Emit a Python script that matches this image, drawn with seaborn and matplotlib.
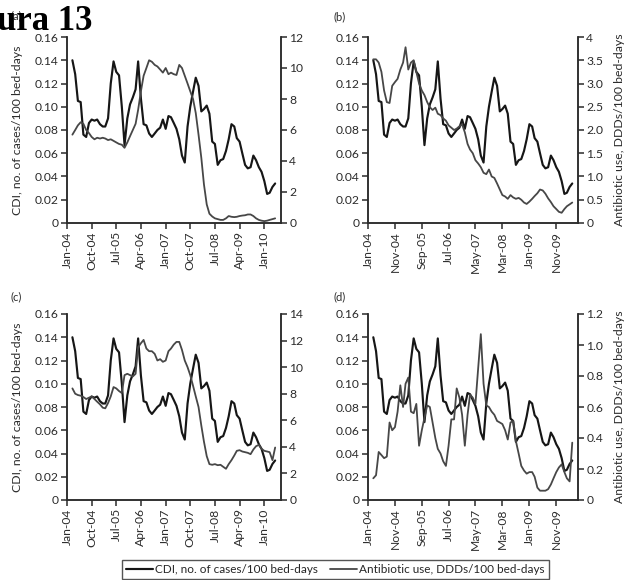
import numpy as np
import pandas as pd
import matplotlib
matplotlib.use('Agg')
import matplotlib.pyplot as plt
import matplotlib.dates as mdates
import seaborn as sns

# monthly values, Mar-04 .. May-10
months = pd.date_range('2004-03-01', '2010-05-01', freq='MS')

# CDI, no. of cases/100 bed-days (same series in all panels)
cdi = [0.140, 0.128, 0.105, 0.104, 0.076, 0.074, 0.086, 0.089, 0.088, 0.089,
       0.085, 0.083, 0.083, 0.090, 0.120, 0.139, 0.130, 0.127, 0.100, 0.067,
       0.090, 0.102, 0.108, 0.115, 0.139, 0.107, 0.085, 0.084, 0.077, 0.074,
       0.077, 0.080, 0.082, 0.089, 0.081, 0.092, 0.091, 0.086, 0.081, 0.072,
       0.058, 0.052, 0.083, 0.100, 0.113, 0.125, 0.118, 0.096, 0.098, 0.101,
       0.094, 0.070, 0.068, 0.050, 0.054, 0.055, 0.062, 0.072, 0.085, 0.083,
       0.073, 0.070, 0.060, 0.050, 0.047, 0.048, 0.058, 0.054, 0.048, 0.044,
       0.036, 0.025, 0.026, 0.031, 0.034]

# antibiotic use, DDDs/100 bed-days, one series per panel
abx_a = [5.7, 6.0, 6.3, 6.5, 6.4, 6.0, 5.8, 5.55, 5.4, 5.5,
         5.45, 5.5, 5.45, 5.35, 5.4, 5.3, 5.2, 5.1, 5.05, 4.85,
         5.2, 5.6, 6.0, 6.4, 7.3, 8.5, 9.5, 10.0, 10.5, 10.4,
         10.2, 10.1, 9.9, 9.7, 10.0, 9.6, 9.7, 9.6, 9.55, 10.2,
         10.0, 9.5, 9.0, 8.5, 8.0, 7.1, 5.7, 4.2, 2.5, 1.2,
         0.6, 0.42, 0.3, 0.25, 0.2, 0.2, 0.3, 0.45, 0.4, 0.38,
         0.4, 0.45, 0.48, 0.5, 0.55, 0.55, 0.45, 0.3, 0.2, 0.15,
         0.12, 0.15, 0.2, 0.25, 0.3]
abx_b = [3.52, 3.52, 3.45, 3.25, 2.85, 2.6, 2.58, 2.95, 3.03, 3.1,
         3.3, 3.45, 3.78, 3.3, 3.45, 3.5, 3.25, 3.0, 2.85, 2.75,
         2.6, 2.49, 2.43, 2.48, 2.35, 2.32, 2.25, 2.2, 2.1, 2.05,
         2.0, 2.03, 2.08, 2.12, 1.95, 1.7, 1.58, 1.5, 1.35, 1.28,
         1.2, 1.08, 1.05, 1.15, 1.0, 0.97, 0.85, 0.72, 0.6, 0.57,
         0.52, 0.6, 0.55, 0.52, 0.54, 0.5, 0.44, 0.41, 0.46, 0.52,
         0.58, 0.64, 0.72, 0.7, 0.63, 0.53, 0.45, 0.36, 0.3, 0.24,
         0.22, 0.3, 0.36, 0.4, 0.44]
abx_c = [8.4, 8.0, 7.9, 7.85, 7.75, 7.6, 7.7, 7.8, 7.6, 7.4,
         7.2, 6.95, 6.9, 7.3, 7.8, 8.5, 8.4, 8.2, 8.05, 9.4,
         9.5, 9.4, 9.3, 9.5, 11.5, 11.8, 12.05, 11.4, 11.2, 11.2,
         11.0, 10.5, 10.6, 10.4, 10.5, 11.2, 11.4, 11.7, 11.9, 11.9,
         11.3, 10.5, 10.0, 9.4, 8.6, 7.8, 7.0, 5.6, 4.4, 3.3,
         2.7, 2.65, 2.7, 2.62, 2.65, 2.5, 2.35, 2.7, 3.0, 3.35,
         3.7, 3.75, 3.65, 3.6, 3.55, 3.45, 3.8, 4.05, 4.15, 3.85,
         3.7, 3.65, 3.6, 3.0, 3.95]
abx_d = [0.14, 0.16, 0.31, 0.29, 0.27, 0.28, 0.50, 0.45, 0.47, 0.57,
         0.74, 0.60, 0.75, 0.79, 0.57, 0.56, 0.62, 0.35, 0.45, 0.53,
         0.61, 0.60, 0.50, 0.40, 0.33, 0.30, 0.25, 0.22, 0.35, 0.52,
         0.52, 0.72, 0.66, 0.55, 0.35, 0.55, 0.68, 0.66, 0.62, 0.85,
         1.07, 0.75, 0.61, 0.60, 0.57, 0.55, 0.51, 0.50, 0.49, 0.45,
         0.39, 0.50, 0.51, 0.38, 0.30, 0.22, 0.19, 0.17, 0.18, 0.18,
         0.15, 0.08, 0.06, 0.06, 0.06, 0.07, 0.10, 0.14, 0.18, 0.21,
         0.23, 0.18, 0.14, 0.12, 0.37]

cdi_ticks = [0, 0.02, 0.04, 0.06, 0.08, 0.10, 0.12, 0.14, 0.16]
cdi_labels = ['0', '0.02', '0.04', '0.06', '0.08', '0.10', '0.12', '0.14', '0.16']
right_a = [0, 2, 4, 6, 8, 10, 12]
right_b = [0, 0.5, 1.0, 1.5, 2.0, 2.5, 3.0, 3.5, 4]
right_b_labels = ['0', '0.5', '1.0', '1.5', '2.0', '2.5', '3.0', '3.5', '4']
right_c = [0, 2, 4, 6, 8, 10, 12, 14]
right_d = [0, 0.2, 0.4, 0.6, 0.8, 1.0, 1.2]
right_d_labels = ['0', '0.2', '0.4', '0.6', '0.8', '1.0', '1.2']
xt_9 = pd.date_range('2004-01-01', periods=9, freq='9MS')
xt_10 = pd.date_range('2004-01-01', periods=8, freq='10MS')

cdi_name = 'CDI, no. of cases/100 bed-days'
abx_name = 'Antibiotic use, DDDs/100 bed-days'

sns.set_style('ticks')
plt.rcParams['font.family'] = ['Lato', 'DejaVu Sans']
plt.rcParams['axes.linewidth'] = 1.1
plt.rcParams['xtick.major.width'] = 1.1
plt.rcParams['ytick.major.width'] = 1.1
plt.rcParams['xtick.major.size'] = 4
plt.rcParams['ytick.major.size'] = 4

ink = '#2b2b2b'
W, H = 625, 580
fig = plt.figure(figsize=(6.25, 5.8), dpi=100)

# tag, axes box in pixels (left, top, right, bottom), series, right ticks, labels, x ticks, y-label side, tag pos
panels = [
    ('(a)', (67, 37, 281, 223), abx_a, right_a, [str(t) for t in right_a], xt_9, 'left', (16, 16)),
    ('(b)', (368, 37, 578, 223), abx_b, right_b, right_b_labels, xt_10, 'right', (340, 17)),
    ('(c)', (67, 314, 281, 500), abx_c, right_c, [str(t) for t in right_c], xt_9, 'left', (16, 297)),
    ('(d)', (368, 314, 578, 500), abx_d, right_d, right_d_labels, xt_10, 'right', (340, 297)),
]

for tag, (x0, y0, x1, y1), abx, rt, rl, xt, lab, tpos in panels:
    ax = fig.add_axes([x0 / W, 1 - y1 / H, (x1 - x0) / W, (y1 - y0) / H])
    ax2 = ax.twinx()
    sns.lineplot(x=months, y=cdi, ax=ax, color='#161616', linewidth=1.55, label=cdi_name, legend=False)
    sns.lineplot(x=months, y=abx, ax=ax2, color='#474747', linewidth=1.3, label=abx_name, legend=False)
    ax.set_xlim(pd.Timestamp('2004-01-01'), pd.Timestamp('2010-07-05'))
    ax.set_ylim(0, 0.16)
    ax2.set_ylim(0, rt[-1])
    ax.set_yticks(cdi_ticks)
    ax.set_yticklabels(cdi_labels)
    ax2.set_yticks(rt)
    ax2.set_yticklabels(rl)
    ax.set_xticks(xt)
    ax.xaxis.set_major_formatter(mdates.DateFormatter('%b-%y'))
    ax.tick_params(axis='x', rotation=90)
    for a in (ax, ax2):
        a.spines['top'].set_visible(False)
        for s in a.spines.values():
            s.set_color(ink)
        a.tick_params(colors=ink, labelsize=8.7, pad=2)
    ax.set_xlabel('')
    ax.set_ylabel('')
    ax2.set_ylabel('')
    if lab == 'left':
        ax.set_ylabel(cdi_name, fontsize=8.8, color=ink)
        ax.yaxis.set_label_coords((23 - x0) / (x1 - x0), 0.5)
    else:
        ax2.set_ylabel(abx_name, fontsize=8.8, color=ink)
        ax2.yaxis.set_label_coords((614 - x0) / (x1 - x0), 0.5)
    fig.text(tpos[0] / W, 1 - tpos[1] / H, tag, fontsize=8, color=ink, ha='center', va='center')

h1 = fig.axes[0].get_lines()[0]
h2 = fig.axes[1].get_lines()[0]
fig.legend([h1, h2], [cdi_name, abx_name], loc='upper right', bbox_to_anchor=(549 / W, 1 - 560 / H),
           ncol=2, frameon=True, fancybox=False, edgecolor=ink, fontsize=8.5,
           borderaxespad=0, handlelength=2.3, columnspacing=1.0, handletextpad=0.2,
           borderpad=0.35)

fig.text(-3 / W, 1 - 30 / H, 'ura 13', fontfamily='Liberation Serif', fontweight='bold',
         fontsize=25, color='black', va='baseline', ha='left')

fig.savefig('out.png', dpi=100, facecolor='white')
